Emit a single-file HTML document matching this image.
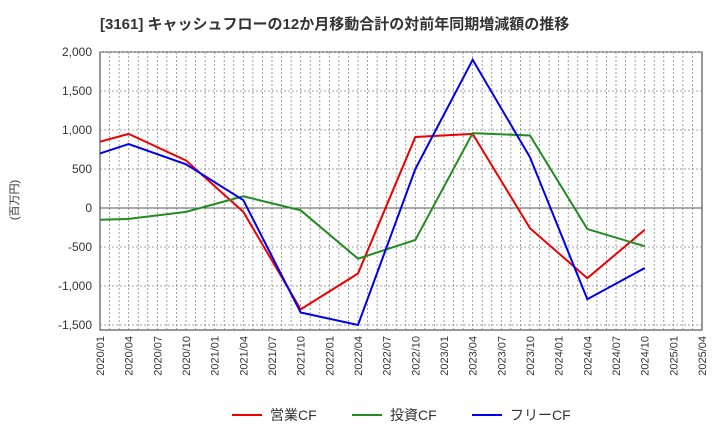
<!DOCTYPE html>
<html><head><meta charset="utf-8"><style>
body{margin:0;background:#fff;font-family:"Liberation Sans","Noto Sans CJK JP",sans-serif;}
</style></head><body>
<svg width="720" height="440" xmlns="http://www.w3.org/2000/svg" font-family="Liberation Sans, Noto Sans CJK JP, sans-serif">
<text x="100" y="29" font-size="15" font-weight="bold" fill="#333">[3161]  キャッシュフローの12か月移動合計の対前年同期増減額の推移</text>
<rect x="100" y="52" width="602" height="278" fill="#fff" stroke="#333"/>
<g id="grid"></g><g id="yt"></g><g id="xt"></g><g id="series"></g>
<text transform="translate(18,200) rotate(-90)" font-size="11" fill="#333" text-anchor="middle">(百万円)</text>
<g font-size="14" fill="#333">
<line x1="232" y1="415" x2="262" y2="415" stroke="#e00" stroke-width="2"/><text x="270" y="420">営業CF</text>
<line x1="352" y1="415" x2="382" y2="415" stroke="#228b22" stroke-width="2"/><text x="390" y="420">投資CF</text>
<line x1="472" y1="415" x2="502" y2="415" stroke="#00e" stroke-width="2"/><text x="510" y="420">フリーCF</text>
</g>
</svg>
<script>
const xLabels=["2020/01","2020/04","2020/07","2020/10","2021/01","2021/04","2021/07","2021/10","2022/01","2022/04","2022/07","2022/10","2023/01","2023/04","2023/07","2023/10","2024/01","2024/04","2024/07","2024/10","2025/01","2025/04"];
const yTicks=[2000,1500,1000,500,0,-500,-1000,-1500];
const pointIdx=[0,1,3,5,7,9,11,13,15,17,19];
const opCF=[850,950,610,-50,-1300,-840,910,950,-260,-900,-280];
const invCF=[-150,-140,-50,150,-30,-650,-410,960,930,-270,-490];
const freeCF=[700,820,560,100,-1340,-1500,500,1900,650,-1170,-770];
const NS="http://www.w3.org/2000/svg";
const X=i=>100+i*602/21;
const Y=v=>208-v*0.078;
function mk(t,a,p){const e=document.createElementNS(NS,t);for(const k in a)e.setAttribute(k,a[k]);p.appendChild(e);return e;}
const grid=document.getElementById('grid'),yt=document.getElementById('yt'),xt=document.getElementById('xt'),ser=document.getElementById('series');
for(let m=1;m<63;m++){
 const l=mk('line',{x1:X(m/3),x2:X(m/3),y1:52,y2:330,stroke:'#888','stroke-dasharray':'2,2','stroke-width':0.8},grid);
 
 
}
yTicks.forEach(v=>{
 const l=mk('line',{x1:100,x2:702,y1:Y(v),y2:Y(v),stroke:v===0?'#555':'#888','stroke-dasharray':v===0?'':'2,2','stroke-width':v===0?1:0.8},grid);
 
 
 const t=mk('text',{x:92,y:Y(v)+4,'text-anchor':'end','font-size':12,fill:'#333'},yt);
 t.textContent=v.toLocaleString('en-US');
 
 
});
xLabels.forEach((s,i)=>{
 const t=mk('text',{transform:`translate(${X(i)+4},336) rotate(-90)`,'text-anchor':'end','font-size':11,fill:'#333'},xt);
 t.textContent=s;
 
 
});
[[opCF,'#e00','operating-cf-line'],[invCF,'#228b22','investing-cf-line'],[freeCF,'#00e','free-cf-line']].forEach(([d,c,n])=>{
 const p=mk('polyline',{points:d.map((v,k)=>X(pointIdx[k])+','+Y(v)).join(' '),fill:'none',stroke:c,'stroke-width':2},ser);
 
 
});
</script>
</body></html>
